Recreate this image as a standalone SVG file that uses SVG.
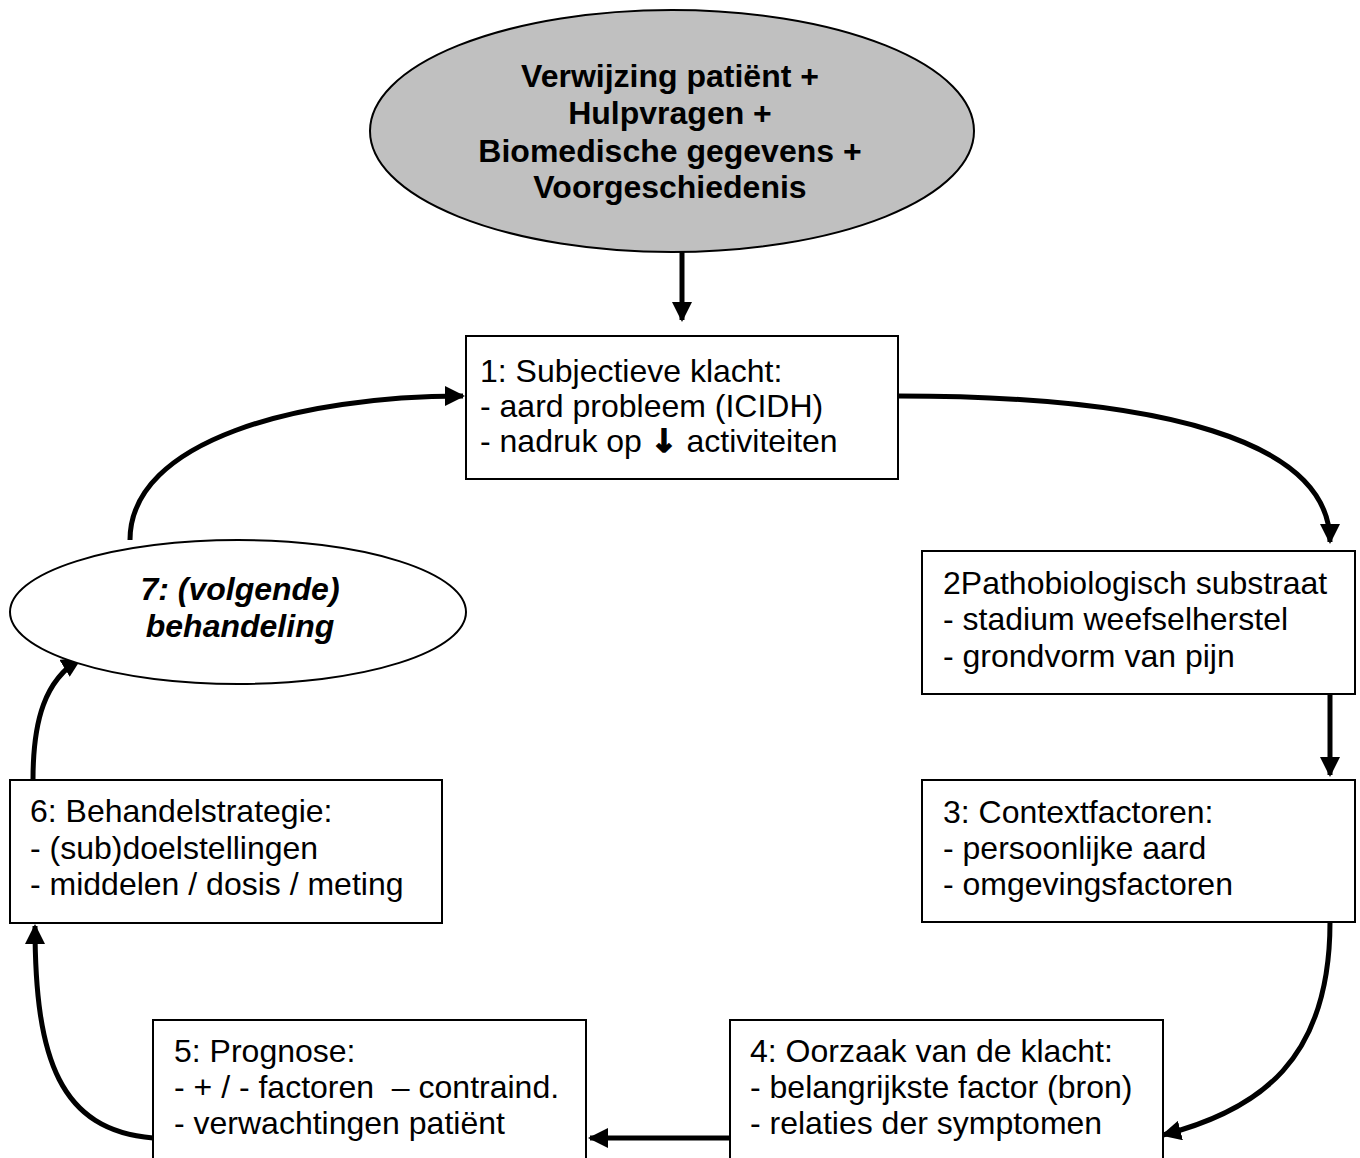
<svg xmlns="http://www.w3.org/2000/svg" width="1360" height="1158" viewBox="0 0 1360 1158">
<style>
.box{fill:#fff;stroke:#000;stroke-width:2}
.t{font-family:"Liberation Sans",Arial,sans-serif;font-size:32px;fill:#000;white-space:pre}
.b{font-weight:bold}
.c{fill:none;stroke:#000;stroke-width:5}
</style>
<defs>
<marker id="ah" viewBox="0 0 10 10" refX="9" refY="5" markerWidth="4" markerHeight="4" orient="auto" markerUnits="strokeWidth">
<path d="M0,0 L10,5 L0,10 z" fill="#000"/>
</marker>
</defs>
<rect width="1360" height="1158" fill="#fff"/>
<g id="connectors">
<path class="c" d="M682,252 L682,320" marker-end="url(#ah)"/>
<path class="c" d="M898,396 C1160,396 1330,440 1330,542" marker-end="url(#ah)"/>
<path class="c" d="M1330,684 L1330,775" marker-end="url(#ah)"/>
<path class="c" d="M1330,922 C1330,1060 1260,1110 1163,1135" marker-end="url(#ah)"/>
<path class="c" d="M730,1138 L590,1138" marker-end="url(#ah)"/>
<path class="c" d="M153,1138 C60,1130 35,1060 35,926" marker-end="url(#ah)"/>
<path class="c" d="M33,780 C33,720 45,680 80,659" marker-end="url(#ah)"/>
<path class="c" d="M130,540 C130,440 300,396 463,396" marker-end="url(#ah)"/>
</g>
<g id="start">
<ellipse cx="672" cy="131" rx="302" ry="121" fill="#c0c0c0" stroke="#000" stroke-width="2"/>
<text class="t b" text-anchor="middle" x="670" y="87">Verwijzing patiënt +</text>
<text class="t b" text-anchor="middle" x="670" y="124">Hulpvragen +</text>
<text class="t b" text-anchor="middle" x="670" y="162">Biomedische gegevens +</text>
<text class="t b" text-anchor="middle" x="670" y="198">Voorgeschiedenis</text>
</g>
<g id="n1">
<rect class="box" x="466" y="336" width="432" height="143"/>
<text class="t" x="480" y="382">1: Subjectieve klacht:</text>
<text class="t" x="480" y="417">- aard probleem (ICIDH)</text>
<text class="t" x="480" y="452">- nadruk op <tspan font-family="DejaVu Sans" font-weight="bold" stroke="#000" stroke-width="1.5">↓</tspan> activiteiten</text>
</g>
<g id="n2">
<rect class="box" x="922" y="551" width="433" height="143"/>
<text class="t" x="943" y="594">2Pathobiologisch substraat</text>
<text class="t" x="943" y="630">- stadium weefselherstel</text>
<text class="t" x="943" y="667">- grondvorm van pijn</text>
</g>
<g id="n3">
<rect class="box" x="922" y="780" width="433" height="142"/>
<text class="t" x="943" y="823">3: Contextfactoren:</text>
<text class="t" x="943" y="859">- persoonlijke aard</text>
<text class="t" x="943" y="895">- omgevingsfactoren</text>
</g>
<g id="n4">
<rect class="box" x="730" y="1020" width="433" height="150"/>
<text class="t" x="750" y="1062">4: Oorzaak van de klacht:</text>
<text class="t" x="750" y="1098">- belangrijkste factor (bron)</text>
<text class="t" x="750" y="1134">- relaties der symptomen</text>
</g>
<g id="n5">
<rect class="box" x="153" y="1020" width="433" height="150"/>
<text class="t" x="174" y="1062">5: Prognose:</text>
<text class="t" x="174" y="1098">- + / - factoren  – contraind.</text>
<text class="t" x="174" y="1134">- verwachtingen patiënt</text>
</g>
<g id="n6">
<rect class="box" x="10" y="780" width="432" height="143"/>
<text class="t" x="30" y="822">6: Behandelstrategie:</text>
<text class="t" x="30" y="859">- (sub)doelstellingen</text>
<text class="t" x="30" y="895">- middelen / dosis / meting</text>
</g>
<g id="n7">
<ellipse cx="238" cy="612" rx="228" ry="72" fill="#fff" stroke="#000" stroke-width="2"/>
<text class="t b" font-style="italic" text-anchor="middle" x="240" y="600">7: (volgende)</text>
<text class="t b" font-style="italic" text-anchor="middle" x="240" y="637">behandeling</text>
</g>
</svg>
